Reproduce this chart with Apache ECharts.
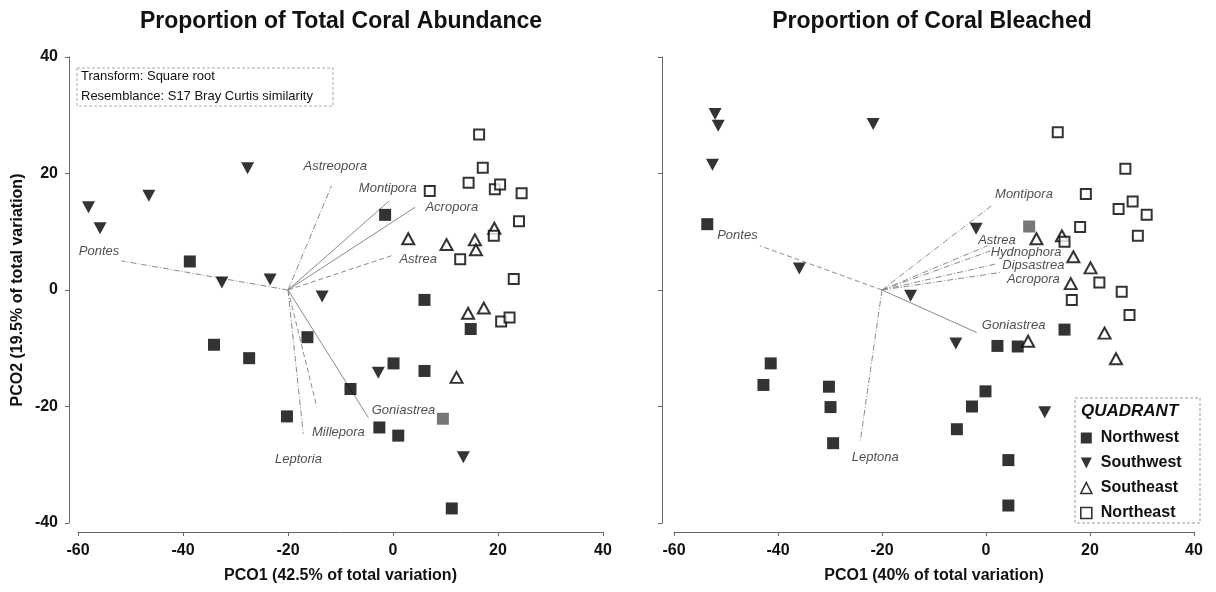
<!DOCTYPE html>
<html>
<head>
<meta charset="utf-8">
<script src="https://cdn.jsdelivr.net/npm/echarts@6/dist/echarts.min.js"></script>
<style>
html,body{margin:0;padding:0;background:#fff;}
#c{width:1216px;height:592px;}
</style>
</head>
<body>
<div id="c"></div>
<script>
// ---------- DATA ----------
const quadrants = ['Northwest', 'Southwest', 'Southeast', 'Northeast'];
const xTicks = [-60, -40, -20, 0, 20, 40];
const yTicks = [-40, -20, 0, 20, 40];

// Left: Proportion of Total Coral Abundance
const abundNW = [[-38.7,4.9],[-1.5,12.9],[-34.1,-9.4],[-27.4,-11.7],[-16.3,-8.1],[-20.2,-21.7],[6.0,-1.7],[14.8,-6.7],[0.1,-12.6],[6.0,-13.9],[-8.1,-17.0],[-2.6,-23.6],[1.0,-25.0],[11.2,-37.5]];
const abundNWGrey = [[9.5,-22.1]];
const abundSW = [[-58.0,14.2],[-55.8,10.6],[-46.5,16.2],[-27.7,20.9],[-32.6,1.3],[-23.4,1.8],[-13.5,-1.1],[-2.8,-14.2],[13.4,-28.7]];
const abundSE = [[2.9,8.8],[10.2,7.8],[15.6,8.6],[15.8,6.9],[19.3,10.6],[14.3,-4.0],[17.3,-3.1],[12.1,-15.0]];
const abundNE = [[16.4,26.7],[17.1,21.0],[7.0,17.0],[14.4,18.4],[19.4,17.3],[20.4,18.1],[24.5,16.6],[24.0,11.8],[19.2,9.3],[12.8,5.3],[23.0,1.9],[20.6,-5.4],[22.2,-4.7]];
const abundVecNames = ['Pontes','Astreopora','Montipora','Acropora','Astrea','Goniastrea','Millepora','Leptoria'];
const abundVecEnds = [[-51.7,5.0],[-11.7,17.9],[-0.7,15.3],[4.2,14.2],[0.1,6.0],[-4.7,-21.9],[-14.5,-20.1],[-17.1,-24.7]];
const abundVecLabels = [[-56.0,6.7],[-11.0,21.3],[-1.0,17.5],[11.2,14.1],[4.8,5.3],[2.0,-20.6],[-10.4,-24.4],[-18.0,-29.0]];

// Right: Proportion of Coral Bleached
const bleachNW = [[-53.6,11.3],[-41.4,-12.6],[-42.8,-16.3],[-30.2,-16.6],[-29.9,-20.1],[-29.4,-26.3],[-0.1,-17.4],[-2.7,-20.0],[-5.6,-23.9],[2.2,-9.6],[6.1,-9.7],[15.1,-6.8],[4.3,-29.2],[4.3,-37.0]];
const bleachNWGrey = [[8.3,10.9]];
const bleachSW = [[-52.1,30.2],[-51.5,28.2],[-52.6,21.5],[-21.7,28.5],[-35.9,3.7],[-14.5,-1.0],[-1.9,10.5],[-5.8,-9.2],[11.3,-21.0]];
const bleachSE = [[9.7,8.8],[14.6,9.3],[16.8,5.7],[20.1,3.8],[16.3,1.1],[22.8,-7.4],[8.1,-8.8],[25.0,-11.8]];
const bleachNE = [[13.8,27.1],[26.8,20.8],[19.2,16.5],[28.2,15.2],[25.5,13.9],[30.9,12.9],[29.2,9.3],[18.1,10.8],[15.1,8.3],[21.8,1.3],[16.5,-1.7],[26.1,-0.3],[27.6,-4.3]];
const bleachVecNames = ['Pontes','Montipora','Astrea','Hydnophora','Dipsastrea','Acropora','Goniastrea','Leptona'];
const bleachVecEnds = [[-43.5,7.6],[1.1,14.5],[0.3,7.6],[0.8,6.7],[2.1,4.5],[2.7,3.0],[-1.8,-7.3],[-24.2,-26.1]];
const bleachVecLabels = [[-47.8,9.3],[7.3,16.4],[2.1,8.6],[7.7,6.4],[9.1,4.2],[9.1,1.8],[5.3,-6.0],[-21.3,-28.7]];

const vecOrigin = [-20, 0];

// ---------- STYLES ----------
const FONT = "'Liberation Sans', Arial, sans-serif";
const DASHDOT = [6, 2, 1, 2];
const DASHED = [5, 3];
const vecStyleLeft = {Pontes: DASHDOT, Astreopora: DASHDOT, Montipora: 'solid', Acropora: 'solid', Astrea: DASHED, Goniastrea: 'solid', Millepora: DASHED, Leptoria: DASHDOT};
const vecStyleRight = {Pontes: DASHED, Montipora: DASHDOT, Astrea: DASHDOT, Hydnophora: DASHDOT, Dipsastrea: DASHDOT, Acropora: DASHDOT, Goniastrea: 'solid', Leptona: DASHDOT};

const TRI_DOWN = 'path://M0,0 L10,0 L5,10 Z';
const symStyles = {
  Northwest: {symbol: 'rect', symbolSize: 12, itemStyle: {color: '#000'}},
  Southwest: {symbol: TRI_DOWN, symbolSize: [13, 12], itemStyle: {color: '#000'}},
  Southeast: {symbol: 'triangle', symbolSize: [12, 11], itemStyle: {color: '#fff', borderColor: '#000', borderWidth: 2}},
  Northeast: {symbol: 'rect', symbolSize: 10, itemStyle: {color: '#fff', borderColor: '#000', borderWidth: 2}}
};

function xAxisDef(gi, name, offset) {
  return {
    gridIndex: gi, type: 'value', min: xTicks[0], max: xTicks[xTicks.length - 1], interval: 20,
    offset: offset, name: name, nameLocation: 'middle', nameGap: 36,
    nameTextStyle: {fontSize: 16, fontWeight: 'bold', color: '#111', fontFamily: FONT},
    axisLine: {show: true, onZero: false, lineStyle: {color: '#666', width: 1}},
    axisTick: {show: true, length: 4, lineStyle: {color: '#666'}},
    axisLabel: {fontSize: 16, fontWeight: 'bold', color: '#111', fontFamily: FONT, margin: 11},
    splitLine: {show: false}
  };
}
function yAxisDef(gi, name, offset, showLabels) {
  return {
    gridIndex: gi, type: 'value', min: yTicks[0], max: yTicks[yTicks.length - 1], interval: 20,
    offset: offset, name: name, nameLocation: 'middle', nameGap: 43,
    nameTextStyle: {fontSize: 16, fontWeight: 'bold', color: '#111', fontFamily: FONT},
    axisLine: {show: true, onZero: false, lineStyle: {color: '#666', width: 1}},
    axisTick: {show: true, length: 4, lineStyle: {color: '#666'}},
    axisLabel: {show: showLabels, fontSize: 16, fontWeight: 'bold', color: '#111', fontFamily: FONT, margin: 11},
    splitLine: {show: false}
  };
}

const series = [];
function addVectors(gi, names, ends, labels, styleMap) {
  names.forEach((n, i) => {
    series.push({
      type: 'line', xAxisIndex: gi, yAxisIndex: gi, data: [vecOrigin, ends[i]],
      symbol: 'none', silent: true, z: 1,
      lineStyle: {color: '#8a8a8a', width: 1, type: styleMap[n]}
    });
  });
  series.push({
    type: 'scatter', xAxisIndex: gi, yAxisIndex: gi, silent: true, z: 2,
    symbolSize: 1, itemStyle: {color: 'rgba(0,0,0,0)'},
    data: labels.map((p, i) => ({name: names[i], value: p})),
    label: {show: true, position: 'inside', formatter: '{b}', fontSize: 13, fontStyle: 'italic', color: '#222', fontFamily: FONT}
  });
}
function addPoints(gi, nw, nwGrey, sw, se, ne) {
  const sets = {Northwest: nw, Southwest: sw, Southeast: se, Northeast: ne};
  quadrants.forEach(q => {
    const s = symStyles[q];
    series.push(Object.assign({type: 'scatter', name: q, xAxisIndex: gi, yAxisIndex: gi, z: 3, data: sets[q]}, s));
  });
  series.push({type: 'scatter', name: 'Northwest', xAxisIndex: gi, yAxisIndex: gi, z: 3, data: nwGrey,
    symbol: 'rect', symbolSize: 12, itemStyle: {color: '#555'}});
}

addVectors(0, abundVecNames, abundVecEnds, abundVecLabels, vecStyleLeft);
addVectors(1, bleachVecNames, bleachVecEnds, bleachVecLabels, vecStyleRight);
addPoints(0, abundNW, abundNWGrey, abundSW, abundSE, abundNE);
addPoints(1, bleachNW, bleachNWGrey, bleachSW, bleachSE, bleachNE);

const option = {
  animation: false,
  backgroundColor: '#fff',
  textStyle: {fontFamily: FONT},
  title: [
    {text: 'Proportion of Total Coral Abundance', left: 341, top: 10, textAlign: 'center', padding: 0,
     textStyle: {fontSize: 23, fontWeight: 'bold', color: '#111', fontFamily: FONT}},
    {text: 'Proportion of Coral Bleached', left: 932, top: 10, textAlign: 'center', padding: 0,
     textStyle: {fontSize: 23, fontWeight: 'bold', color: '#111', fontFamily: FONT}}
  ],
  grid: [
    {left: 78, top: 57, width: 525, height: 466},
    {left: 674, top: 57, width: 520, height: 466}
  ],
  xAxis: [
    xAxisDef(0, 'PCO1 (42.5% of total variation)', 9),
    xAxisDef(1, 'PCO1 (40% of total variation)', 9)
  ],
  yAxis: [
    yAxisDef(0, 'PCO2 (19.5% of total variation)', 9, true),
    yAxisDef(1, '', 12, false)
  ],
  legend: {
    orient: 'vertical', left: 1080, top: 430, padding: 0, itemGap: 9,
    itemWidth: 11, itemHeight: 11, selectedMode: false,
    textStyle: {fontSize: 16, fontWeight: 'bold', color: '#111', fontFamily: FONT, padding: [0, 0, 0, 4]},
    data: [
      {name: 'Northwest', icon: 'rect', itemStyle: {color: '#000', borderWidth: 0}},
      {name: 'Southwest', icon: TRI_DOWN, itemStyle: {color: '#000', borderWidth: 0}},
      {name: 'Southeast', icon: 'triangle', itemStyle: {color: '#fff', borderColor: '#000', borderWidth: 1.6}},
      {name: 'Northeast', icon: 'rect', itemStyle: {color: '#fff', borderColor: '#000', borderWidth: 1.6}}
    ]
  },
  graphic: [
    {type: 'rect', z: 0, shape: {x: 1075, y: 398, width: 125, height: 125},
     style: {fill: '#fff', stroke: '#999', lineWidth: 1, lineDash: [3, 2]}},
    {type: 'text', z: 10, left: 1081, top: 403,
     style: {text: 'QUADRANT', fontSize: 17, fontWeight: 'bold', fontStyle: 'italic', fill: '#111', fontFamily: FONT}},
    {type: 'rect', z: 0, shape: {x: 77, y: 68, width: 256, height: 38},
     style: {fill: 'rgba(0,0,0,0)', stroke: '#aaa', lineWidth: 1, lineDash: [3, 2]}},
    {type: 'text', z: 10, left: 81, top: 70,
     style: {text: 'Transform: Square root', fontSize: 13, fill: '#111', fontFamily: FONT}},
    {type: 'text', z: 10, left: 81, top: 90,
     style: {text: 'Resemblance: S17 Bray Curtis similarity', fontSize: 13, fill: '#111', fontFamily: FONT}}
  ],
  series: series
};

const chart = echarts.init(document.getElementById('c'), null, {renderer: 'canvas'});
chart.setOption(option);
</script>
</body>
</html>
